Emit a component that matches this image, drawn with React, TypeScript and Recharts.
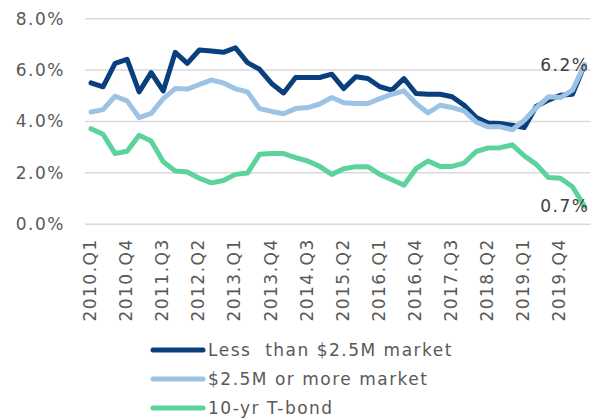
import React from "react";
import { LineChart, Line, XAxis, YAxis, CartesianGrid, Legend } from "recharts";

const quarters = [
  "2010.Q1", "2010.Q2", "2010.Q3", "2010.Q4",
  "2011.Q1", "2011.Q2", "2011.Q3", "2011.Q4",
  "2012.Q1", "2012.Q2", "2012.Q3", "2012.Q4",
  "2013.Q1", "2013.Q2", "2013.Q3", "2013.Q4",
  "2014.Q1", "2014.Q2", "2014.Q3", "2014.Q4",
  "2015.Q1", "2015.Q2", "2015.Q3", "2015.Q4",
  "2016.Q1", "2016.Q2", "2016.Q3", "2016.Q4",
  "2017.Q1", "2017.Q2", "2017.Q3", "2017.Q4",
  "2018.Q1", "2018.Q2", "2018.Q3", "2018.Q4",
  "2019.Q1", "2019.Q2", "2019.Q3", "2019.Q4",
  "2020.Q1", "2020.Q2",
];

const lessThan25M = [
  5.5, 5.35, 6.26, 6.42, 5.15, 5.9, 5.19, 6.69, 6.26, 6.78,
  6.74, 6.69, 6.87, 6.29, 6.03, 5.48, 5.11, 5.71, 5.71, 5.71,
  5.84, 5.28, 5.74, 5.67, 5.35, 5.22, 5.67, 5.09, 5.06, 5.06,
  4.96, 4.63, 4.15, 3.94, 3.92, 3.85, 3.76, 4.59, 4.83, 5.02,
  5.06, 6.2,
];

const moreThan25M = [
  4.37, 4.46, 4.98, 4.8, 4.15, 4.31, 4.89, 5.28, 5.26, 5.44,
  5.61, 5.5, 5.27, 5.15, 4.5, 4.39, 4.3, 4.5, 4.54, 4.68,
  4.93, 4.73, 4.7, 4.7, 4.89, 5.06, 5.19, 4.7, 4.33, 4.63,
  4.54, 4.41, 3.98, 3.79, 3.79, 3.68, 4.05, 4.54, 4.96, 4.93,
  5.22, 6.2,
];

const tBond10 = [
  3.72, 3.5, 2.75, 2.84, 3.46, 3.24, 2.43, 2.07, 2.03, 1.79,
  1.61, 1.7, 1.94, 1.99, 2.72, 2.75, 2.75, 2.59, 2.46, 2.25,
  1.94, 2.16, 2.24, 2.24, 1.94, 1.73, 1.52, 2.16, 2.46, 2.25,
  2.25, 2.38, 2.83, 2.97, 2.98, 3.09, 2.66, 2.33, 1.82, 1.79,
  1.46, 0.7,
];

const yTicks = [0, 2, 4, 6, 8];

const seriesNames = ["Less  than $2.5M market", "$2.5M or more market", "10-yr T-bond"];
const seriesColors = ["#0A3F7E", "#9CC3E4", "#5DD39C"];
const seriesKeys = ["less", "more", "bond"];

const data = quarters.map((q, i) => ({
  q,
  less: lessThan25M[i],
  more: moreThan25M[i],
  bond: tBond10[i],
}));

const FONT = "'DejaVu Sans', sans-serif";
const TEXT_GRAY = "#595959";

const XTick = (props: any) => {
  const { x, y, payload } = props;
  return (
    <text
      transform={`translate(${x - 1},${y + 14}) rotate(-90)`}
      textAnchor="end"
      dominantBaseline="central"
      fontFamily={FONT}
      fontSize={17}
      letterSpacing={1.5}
      fill={TEXT_GRAY}
    >
      {payload.value}
    </text>
  );
};

const makeEndLabel = (lastIndex: number) => (props: any) => {
  const { x, y, index, value } = props;
  if (index !== lastIndex) return <g key={`l${index}`} />;
  return (
    <text
      key={`l${index}`}
      x={x + 5}
      y={y}
      textAnchor="end"
      dominantBaseline="central"
      fontFamily={FONT}
      fontSize={17}
      letterSpacing={1.5}
      fill="#404040"
    >
      {`${Number(value).toFixed(1)}%`}
    </text>
  );
};

const renderLegend = () => (
  <div style={{ width: 603, height: 84, position: "relative" }}>
    {seriesNames.map((name, i) => (
      <div
        key={name}
        style={{
          position: "absolute",
          left: 149,
          top: i * 29.3,
          height: 29.3,
          display: "flex",
          alignItems: "center",
        }}
      >
        <svg width={58} height={10} style={{ display: "block" }}>
          <line
            x1={4}
            y1={5}
            x2={54}
            y2={5}
            stroke={seriesColors[i]}
            strokeWidth={5}
            strokeLinecap="round"
          />
        </svg>
        <span
          style={{
            marginLeft: 1,
            fontFamily: FONT,
            fontSize: 17,
            letterSpacing: 1.5,
            color: TEXT_GRAY,
            whiteSpace: "pre",
          }}
        >
          {name}
        </span>
      </div>
    ))}
  </div>
);

export default function App() {
  const last = quarters.length - 1;
  return (
    <div style={{ position: "absolute", left: 0, top: 0, width: 603, height: 419, background: "#fff" }}>
      <LineChart
        width={603}
        height={419}
        data={data}
        margin={{ top: 18.7, right: 12.5, left: 0, bottom: 0 }}
      >
        <CartesianGrid vertical={false} stroke="#d9d9d9" strokeWidth={1.5} />
        <XAxis
          dataKey="q"
          interval={2}
          axisLine={false}
          tickLine={false}
          tickSize={0}
          tickMargin={0}
          height={110.8}
          padding={{ left: 6, right: 6 }}
          tick={<XTick />}
        />
        <YAxis
          domain={[0, 8]}
          ticks={yTicks}
          width={85}
          axisLine={false}
          tickLine={false}
          tickSize={0}
          tickMargin={20}
          tickFormatter={(v: number) => `${v.toFixed(1)}%`}
          tick={{ fontFamily: FONT, fontSize: 17, letterSpacing: 1.5, fill: TEXT_GRAY }}
        />
        <Legend
          verticalAlign="bottom"
          align="left"
          content={renderLegend}
          wrapperStyle={{ height: 84, width: 603, left: 0 }}
        />
        <Line
          dataKey={seriesKeys[0]}
          name={seriesNames[0]}
          stroke={seriesColors[0]}
          strokeWidth={5}
          dot={false}
          strokeLinejoin="round"
          strokeLinecap="round"
          isAnimationActive={false}
        />
        <Line
          dataKey={seriesKeys[1]}
          name={seriesNames[1]}
          stroke={seriesColors[1]}
          strokeWidth={5}
          dot={false}
          strokeLinejoin="round"
          strokeLinecap="round"
          isAnimationActive={false}
          label={makeEndLabel(last)}
        />
        <Line
          dataKey={seriesKeys[2]}
          name={seriesNames[2]}
          stroke={seriesColors[2]}
          strokeWidth={5}
          dot={false}
          strokeLinejoin="round"
          strokeLinecap="round"
          isAnimationActive={false}
          label={makeEndLabel(last)}
        />
      </LineChart>
    </div>
  );
}
